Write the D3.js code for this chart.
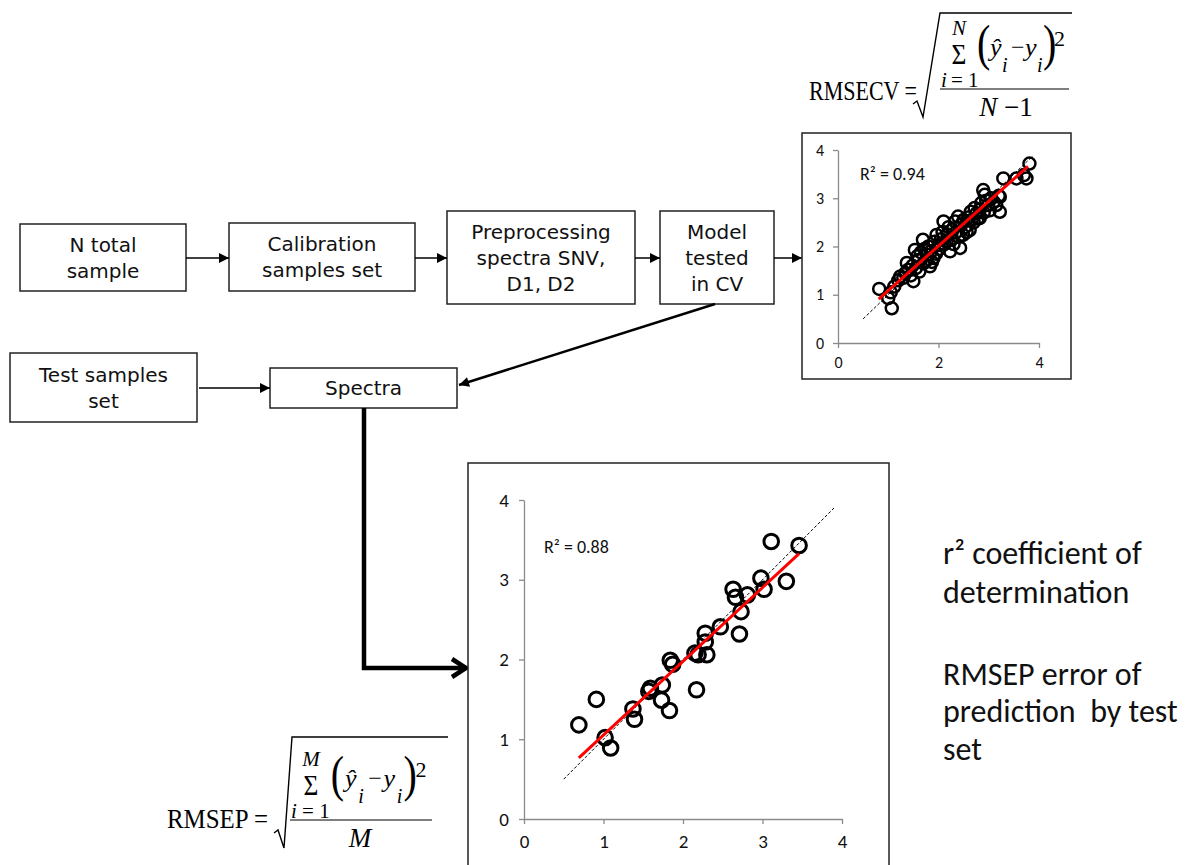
<!DOCTYPE html>
<html>
<head>
<meta charset="utf-8">
<script src="https://cdn.jsdelivr.net/npm/d3@7"></script>
<style>
  html, body { margin: 0; padding: 0; background: #fff; }
</style>
</head>
<body>
<div id="chart"></div>
<script>
const width = 1192;
const height = 865;

// calibration set (cross validation)
const calPoints = [
    [0.82, 1.12], [1.07, 0.72], [1.0, 0.93], [1.12, 1.17], [1.05, 1.05], [1.2, 1.3],
    [1.24, 1.38], [1.3, 1.35], [1.34, 1.45], [1.37, 1.66], [1.4, 1.52], [1.45, 1.4],
    [1.5, 1.28], [1.48, 1.6], [1.53, 1.93], [1.55, 1.55], [1.58, 1.8], [1.6, 1.72],
    [1.62, 1.48], [1.65, 1.88], [1.69, 2.14], [1.7, 1.65], [1.72, 1.95], [1.75, 1.7],
    [1.77, 1.83], [1.8, 2.0], [1.83, 1.59], [1.85, 1.9], [1.87, 1.68], [1.9, 1.76],
    [1.92, 2.1], [1.95, 1.85], [1.96, 2.24], [2.0, 2.03], [2.02, 1.95], [2.05, 2.15],
    [2.08, 2.3], [2.1, 2.52], [2.12, 2.05], [2.16, 2.1], [2.18, 2.25], [2.2, 2.4],
    [2.23, 1.9], [2.25, 2.15], [2.28, 2.35], [2.3, 2.05], [2.33, 2.52], [2.35, 2.3],
    [2.39, 2.62], [2.4, 2.2], [2.43, 1.97], [2.45, 2.45], [2.49, 2.24], [2.5, 2.55],
    [2.53, 2.4], [2.56, 2.3], [2.58, 2.6], [2.62, 2.34], [2.64, 2.72], [2.66, 2.55],
    [2.7, 2.5], [2.72, 2.8], [2.76, 2.69], [2.78, 2.58], [2.82, 2.59], [2.82, 2.76],
    [2.85, 2.9], [2.89, 3.17], [2.9, 2.7], [2.92, 3.07], [2.95, 2.95], [2.99, 2.86],
    [3.02, 2.75], [3.05, 3.0], [3.1, 2.92], [3.15, 2.86], [3.2, 3.05], [3.22, 2.72],
    [3.22, 3.03], [3.29, 3.41], [3.55, 3.41], [3.7, 3.48], [3.75, 3.41], [3.81, 3.72],
];

// test set (prediction)
const testPoints = [
    [0.69, 1.18], [0.91, 1.5], [1.02, 1.02], [1.09, 0.89], [1.37, 1.38], [1.39, 1.25],
    [1.57, 1.6], [1.59, 1.64], [1.74, 1.68], [1.73, 1.49], [1.83, 1.36], [1.84, 1.99],
    [1.87, 1.94], [2.15, 2.08], [2.19, 2.06], [2.17, 1.62], [2.28, 2.33], [2.28, 2.22],
    [2.3, 2.06], [2.47, 2.41], [2.63, 2.88], [2.66, 2.78], [2.73, 2.6], [2.71, 2.32],
    [2.81, 2.81], [2.98, 3.02], [3.02, 2.88], [3.11, 3.48], [3.3, 2.98], [3.46, 3.43],
];

const calFit = { slope: 0.926, intercept: 0.16, from: 0.81, to: 3.78 };
const testFit = { slope: 0.924, intercept: 0.13, from: 0.69, to: 3.46 };
const calIdentity = [0.5, 3.88];
const testIdentity = [0.5, 3.9];
const calR2 = '0.94';
const testR2 = '0.88';
const calXTicks = [0, 2, 4];
const testXTicks = [0, 1, 2, 3, 4];
const yTicks = [0, 1, 2, 3, 4];

const boxFont = '"DejaVu Sans", sans-serif';
const calibri = 'Calibri, Carlito, Lato, sans-serif';
const serif = '"Times New Roman", "Liberation Serif", serif';

const svg = d3
    .select('#chart')
    .append('svg')
    .attr('width', width)
    .attr('height', height)
    .style('background-color', 'white');

const defs = svg.append('defs');
defs.append('marker')
    .attr('id', 'tri')
    .attr('markerUnits', 'userSpaceOnUse')
    .attr('viewBox', '0 0 10 10')
    .attr('refX', 10)
    .attr('refY', 5)
    .attr('markerWidth', 11)
    .attr('markerHeight', 10)
    .attr('orient', 'auto')
    .append('path')
    .attr('d', 'M0,0 L10,5 L0,10 Z')
    .attr('fill', '#000');

// ---------- flow boxes ----------
const boxes = [
    { x: 20, y: 224, w: 166, h: 67, lines: ['N total', 'sample'] },
    { x: 229, y: 223, w: 186, h: 68, lines: ['Calibration', 'samples set'] },
    { x: 447, y: 211, w: 188, h: 93, lines: ['Preprocessing', 'spectra SNV,', 'D1, D2'] },
    { x: 660, y: 211, w: 114, h: 93, lines: ['Model', 'tested', 'in CV'] },
    { x: 10, y: 353, w: 187, h: 69, lines: ['Test samples', 'set'] },
    { x: 270, y: 368, w: 187, h: 40, lines: ['Spectra'] },
];

const boxG = svg.append('g');
boxes.forEach((b) => {
    boxG.append('rect')
        .attr('x', b.x)
        .attr('y', b.y)
        .attr('width', b.w)
        .attr('height', b.h)
        .attr('fill', 'white')
        .attr('stroke', '#222')
        .attr('stroke-width', 1.5);
    const lh = 26;
    const cy = b.y + b.h / 2;
    b.lines.forEach((t, i) => {
        boxG.append('text')
            .attr('x', b.x + b.w / 2)
            .attr('y', cy + (i - (b.lines.length - 1) / 2) * lh + 7)
            .attr('text-anchor', 'middle')
            .attr('font-family', boxFont)
            .attr('font-size', 20)
            .attr('fill', '#111')
            .text(t);
    });
});

const arrows = [
    [186, 258, 229, 258],
    [415, 258, 447, 258],
    [635, 258, 660, 258],
    [774, 258, 802, 258],
    [199, 388, 270, 388],
];
arrows.forEach(([x1, y1, x2, y2]) => {
    svg.append('line')
        .attr('x1', x1).attr('y1', y1)
        .attr('x2', x2).attr('y2', y2)
        .attr('stroke', '#000')
        .attr('stroke-width', 1.5)
        .attr('marker-end', 'url(#tri)');
});

svg.append('line')
    .attr('x1', 715).attr('y1', 304)
    .attr('x2', 459).attr('y2', 385)
    .attr('stroke', '#000')
    .attr('stroke-width', 2.5)
    .attr('marker-end', 'url(#tri)');

svg.append('path')
    .attr('d', 'M364,408 V668 H466')
    .attr('fill', 'none')
    .attr('stroke', '#000')
    .attr('stroke-width', 4.5);
svg.append('path')
    .attr('d', 'M452,659 L466,668 L452,677')
    .attr('fill', 'none')
    .attr('stroke', '#000')
    .attr('stroke-width', 4.5);

// ---------- scatter plots ----------
function drawScatter(opts) {
    const g = svg.append('g');
    g.append('rect')
        .attr('x', opts.frame[0])
        .attr('y', opts.frame[1])
        .attr('width', opts.frame[2])
        .attr('height', opts.frame[3])
        .attr('fill', 'white')
        .attr('stroke', '#222')
        .attr('stroke-width', 1.5);

    const x = d3.scaleLinear().domain([0, 4]).range(opts.xRange);
    const y = d3.scaleLinear().domain([0, 4]).range(opts.yRange);
    const fmt = d3.format('d');

    const xAxis = g.append('g')
        .attr('transform', `translate(0,${opts.yRange[0]})`)
        .call(d3.axisBottom(x).tickValues(opts.xTicks).tickFormat(fmt)
            .tickSize(5).tickSizeOuter(0).tickPadding(opts.xPad));
    const yAxis = g.append('g')
        .attr('transform', `translate(${opts.xRange[0]},0)`)
        .call(d3.axisLeft(y).tickValues(yTicks).tickFormat(fmt)
            .tickSize(5).tickSizeOuter(0).tickPadding(opts.yPad));
    [xAxis, yAxis].forEach((a) => {
        a.select('.domain').attr('stroke', '#8a8a8a').attr('stroke-width', 1.3);
        a.selectAll('.tick line').attr('stroke', '#8a8a8a').attr('stroke-width', 1.3);
        a.selectAll('.tick text')
            .attr('font-family', calibri)
            .attr('font-size', opts.tickSize)
            .attr('fill', '#111');
    });

    g.append('line')
        .attr('x1', x(opts.identity[0])).attr('y1', y(opts.identity[0]))
        .attr('x2', x(opts.identity[1])).attr('y2', y(opts.identity[1]))
        .attr('stroke', '#000')
        .attr('stroke-width', 1)
        .attr('stroke-dasharray', '3,2');

    g.selectAll('circle.pt')
        .data(opts.points)
        .enter()
        .append('circle')
        .attr('class', 'pt')
        .attr('cx', (d) => x(d[0]))
        .attr('cy', (d) => y(d[1]))
        .attr('r', opts.r)
        .attr('fill', 'none')
        .attr('stroke', '#000')
        .attr('stroke-width', opts.sw);

    const f = opts.fit;
    g.append('line')
        .attr('x1', x(f.from)).attr('y1', y(f.slope * f.from + f.intercept))
        .attr('x2', x(f.to)).attr('y2', y(f.slope * f.to + f.intercept))
        .attr('stroke', '#ff0000')
        .attr('stroke-width', 3);

    g.append('text')
        .attr('x', opts.r2Pos[0])
        .attr('y', opts.r2Pos[1])
        .attr('font-family', calibri)
        .attr('font-size', 18)
        .attr('fill', '#111')
        .text('R² = ' + opts.r2);
}

drawScatter({
    frame: [802, 133, 269, 246],
    xRange: [838, 1039],
    yRange: [343, 150],
    xTicks: calXTicks,
    xPad: 9,
    yPad: 9,
    tickSize: 16,
    points: calPoints,
    r: 6,
    sw: 2.5,
    fit: calFit,
    identity: calIdentity,
    r2: calR2,
    r2Pos: [860, 180],
});

drawScatter({
    frame: [468, 463, 421, 420],
    xRange: [524, 842],
    yRange: [819, 500],
    xTicks: testXTicks,
    xPad: 11,
    yPad: 10,
    tickSize: 19,
    points: testPoints,
    r: 7.3,
    sw: 3,
    fit: testFit,
    identity: testIdentity,
    r2: testR2,
    r2Pos: [544, 553],
});

// ---------- formulas ----------
function drawFormula(cfg) {
    const g = svg.append('g').attr('font-family', serif).attr('fill', '#000');
    const fx = cfg.barX0;
    const fy = cfg.barY;
    const k = (cfg.barX1 - cfg.barX0) / 129;

    g.append('text')
        .attr('x', cfg.labelX)
        .attr('y', fy + cfg.labelDy)
        .attr('font-size', 28)
        .attr('textLength', cfg.labelW)
        .attr('lengthAdjust', 'spacingAndGlyphs')
        .text(cfg.label);

    g.append('path')
        .attr('d', cfg.radical)
        .attr('fill', 'none')
        .attr('stroke', '#000')
        .attr('stroke-width', 1.4)
        .attr('stroke-linejoin', 'miter');

    g.append('line')
        .attr('x1', fx).attr('y1', fy)
        .attr('x2', cfg.barX1).attr('y2', fy)
        .attr('stroke', '#000')
        .attr('stroke-width', 1.2);

    const parts = [
        { t: cfg.upper, x: 19, y: -54, s: 21, it: true, mid: true },
        { t: '\u03A3', x: 19, y: -25, s: 30, mid: true, sx: 0.85 },
        { t: 'i', x: 1, y: -2, s: 21, it: true },
        { t: '= 1', x: 11, y: -2, s: 21 },
        { t: '(', x: 37, y: -29, s: 50, sx: 0.8 },
        { t: '\u0177', x: 50, y: -33, s: 26, it: true },
        { t: 'i', x: 62, y: -17, s: 20, it: true },
        { t: '\u2212', x: 71, y: -34, s: 24 },
        { t: 'y', x: 85, y: -33, s: 26, it: true },
        { t: 'i', x: 97, y: -17, s: 20, it: true },
        { t: ')', x: 103, y: -29, s: 50, sx: 0.8 },
        { t: '2', x: 114, y: -43, s: 22 },
    ];
    parts.forEach((p) => {
        const px = fx + p.x * k;
        const py = fy + p.y;
        const sx = p.sx || 1;
        g.append('text')
            .attr('transform', `translate(${px},${py}) scale(${sx},1)`)
            .attr('font-size', p.s)
            .attr('font-style', p.it ? 'italic' : 'normal')
            .attr('text-anchor', p.mid ? 'middle' : 'start')
            .text(p.t);
    });

    const den = g.append('text')
        .attr('x', fx + cfg.denomX)
        .attr('y', fy + 27)
        .attr('font-size', 27)
        .attr('text-anchor', 'middle');
    den.append('tspan').attr('font-style', 'italic').text(cfg.denom[0]);
    if (cfg.denom[1]) den.append('tspan').text(cfg.denom[1]);
}

drawFormula({
    label: 'RMSECV =',
    labelX: 809,
    labelW: 108,
    labelDy: 11,
    barX0: 940,
    barX1: 1069,
    barY: 89,
    radical: 'M913,104 L917,101 L923,117 L940,13 H1072',
    upper: 'N',
    denom: ['N', ' \u22121'],
    denomX: 66,
});

drawFormula({
    label: 'RMSEP =',
    labelX: 167,
    labelW: 101,
    labelDy: 8,
    barX0: 290,
    barX1: 432,
    barY: 820,
    radical: 'M274,833 L278,830 L284,848 L292,737 H448',
    upper: 'M',
    denom: ['M'],
    denomX: 70,
});

// ---------- side notes ----------
const notes = [
    ['r² coefficient of', 564],
    ['determination', 603],
    ['RMSEP error of', 685],
    ['prediction  by test', 722],
    ['set', 760],
];
svg.append('g')
    .selectAll('text')
    .data(notes)
    .enter()
    .append('text')
    .attr('x', 943)
    .attr('y', (d) => d[1])
    .attr('font-family', calibri)
    .attr('font-size', 32)
    .attr('fill', '#111')
    .style('white-space', 'pre')
    .text((d) => d[0]);
</script>
</body>
</html>
